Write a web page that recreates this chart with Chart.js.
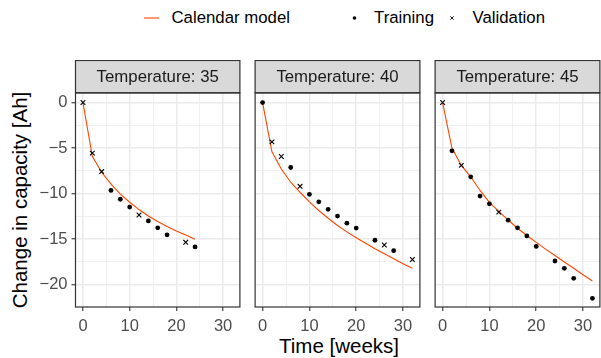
<!DOCTYPE html>
<html>
<head>
<meta charset="utf-8">
<script src="https://cdn.jsdelivr.net/npm/chart.js@4.4.1/dist/chart.umd.min.js"></script>
<style>
  body { margin: 0; width: 601px; height: 358px; overflow: hidden; background: #fff; position: relative;
         font-family: "Liberation Sans", Arial, sans-serif; }
  canvas { position: absolute; top: 60px; }
  .txt { position: absolute; white-space: nowrap; color: #000; }
  .leg { font-size: 16.8px; line-height: 18px; top: 9px; }
</style>
</head>
<body>
<div class="txt leg" style="left:171.5px">Calendar model</div>
<div class="txt leg" style="left:374px">Training</div>
<div class="txt leg" style="left:472.5px">Validation</div>
<svg style="position:absolute;left:0;top:0" width="601" height="40">
  <line x1="144" y1="18" x2="159" y2="18" stroke="#FF4500" stroke-width="1.1"/>
  <circle cx="354.5" cy="18" r="1.8" fill="#000"/>
  <line x1="450.3" y1="16.3" x2="453.7" y2="19.7" stroke="#000" stroke-width="0.9"/>
  <line x1="450.3" y1="19.7" x2="453.7" y2="16.3" stroke="#000" stroke-width="0.9"/>
</svg>
<div class="txt" style="font-size:20.5px;left:20px;top:200px;transform:translate(-50%,-50%) rotate(-90deg);">Change in capacity [Ah]</div>
<div class="txt" style="font-size:20.5px;left:339px;top:346px;transform:translate(-50%,-50%);">Time [weeks]</div>

<canvas id="c35" width="245" height="298" style="left:0px"></canvas>
<canvas id="c40" width="175" height="298" style="left:250px"></canvas>
<canvas id="c45" width="175" height="298" style="left:430px"></canvas>

<script>
// Temperature 35
const train35X = [6, 8, 10, 14, 16, 18, 24];
const train35Y = [-9.65, -10.62, -11.48, -13.0, -13.76, -14.52, -15.85];
const valid35X = [0, 2, 4, 12, 22];
const valid35Y = [0, -5.55, -7.58, -12.35, -15.35];
const model35X = [0, 2, 4, 6, 8, 10, 12, 14, 16, 18, 20, 22, 24];
const model35Y = [0, -5.9, -7.65, -8.95, -10.05, -10.95, -11.75, -12.45, -13.05, -13.6, -14.1, -14.55, -15.0];

// Temperature 40
const train40X = [0, 6, 10, 12, 14, 16, 18, 20, 24, 28];
const train40Y = [0, -7.13, -10.08, -10.9, -11.72, -12.46, -13.25, -13.78, -15.12, -16.26];
const valid40X = [2, 4, 8, 26, 32];
const valid40Y = [-4.32, -5.92, -9.2, -15.64, -17.24];
const model40X = [0, 2, 4, 6, 8, 10, 12, 14, 16, 18, 20, 22, 24, 26, 28, 30, 32];
const model40Y = [0, -5.4, -7.3, -8.75, -9.85, -10.9, -11.85, -12.7, -13.5, -14.2, -14.85, -15.45, -16.05, -16.6, -17.15, -17.7, -18.2];

// Temperature 45
const train45X = [2, 6, 8, 10, 14, 16, 18, 20, 24, 26, 28, 32];
const train45Y = [-5.3, -8.16, -10.27, -11.12, -12.92, -13.76, -14.65, -15.8, -17.4, -18.2, -19.3, -21.5];
const valid45X = [0, 4, 12];
const valid45Y = [0, -6.9, -12.03];
const model45X = [0, 2, 4, 6, 8, 10, 12, 14, 16, 18, 20, 22, 24, 26, 28, 30, 32];
const model45Y = [0, -5.0, -6.9, -8.15, -9.65, -10.95, -11.95, -12.9, -13.8, -14.6, -15.35, -16.1, -16.8, -17.5, -18.2, -18.9, -19.6];

const xTicks = [0, 5, 10, 15, 20, 25, 30];
const yTicks = [0, -2.5, -5, -7.5, -10, -12.5, -15, -17.5, -20];

const pts = (xs, ys) => xs.map((x, i) => ({ x, y: ys[i] }));
const FONT = '"Liberation Sans", Arial, sans-serif';

// strip on top + panel border, ggplot theme_bw look
const panelDeco = {
  id: 'panelDeco',
  afterDraw(chart, args, opts) {
    const { ctx, chartArea: a } = chart;
    ctx.save();
    ctx.fillStyle = '#D9D9D9';
    ctx.strokeStyle = '#333333';
    ctx.lineWidth = 1.2;
    ctx.fillRect(a.left, 0.5, a.right - a.left, 32.2);
    ctx.strokeRect(a.left, 0.5, a.right - a.left, 32.2);
    ctx.fillStyle = '#1A1A1A';
    ctx.font = '16.8px ' + FONT;
    ctx.textAlign = 'center';
    ctx.textBaseline = 'middle';
    ctx.fillText(opts.label, (a.left + a.right) / 2, 17);
    ctx.strokeRect(a.left, a.top, a.right - a.left, a.bottom - a.top);
    ctx.restore();
  }
};

function makePanel(id, label, trainX, trainY, validX, validY, modelX, modelY, axisW, showY, rightPad) {
  new Chart(document.getElementById(id), {
    type: 'scatter',
    data: {
      datasets: [
        { label: 'Training', data: pts(trainX, trainY), pointStyle: 'circle', pointRadius: 2.4,
          backgroundColor: '#000', borderWidth: 0, order: 0 },
        { label: 'Validation', data: pts(validX, validY), pointStyle: 'crossRot', pointRadius: 3.3,
          borderColor: '#000', borderWidth: 1.1, order: 0 },
        { label: 'Calendar model', data: pts(modelX, modelY), showLine: true, pointRadius: 0,
          borderColor: '#FF4500', borderWidth: 1.1, tension: 0, order: 1 }
      ]
    },
    options: {
      responsive: false,
      animation: false,
      devicePixelRatio: 1,
      layout: { padding: { left: 0, right: rightPad, top: 33, bottom: 0 } },
      plugins: { legend: { display: false }, tooltip: { enabled: false }, panelDeco: { label } },
      scales: {
        x: {
          min: -1.6, max: 33.6,
          afterBuildTicks: ax => { ax.ticks = xTicks.map(v => ({ value: v })); },
          afterFit: ax => { ax.height = 51; },
          border: { display: false },
          grid: {
            color: '#EBEBEB',
            lineWidth: c => (c.tick && c.tick.value % 10 === 0 ? 1.5 : 0.75),
            tickColor: c => (c.tick && c.tick.value % 10 === 0 ? '#333333' : 'rgba(0,0,0,0)'),
            tickLength: 4, tickWidth: 1.1
          },
          ticks: {
            color: '#4D4D4D', padding: 6,
            font: { family: FONT, size: 16.5 },
            maxRotation: 0, autoSkip: false,
            callback: v => (v % 10 === 0 ? String(v) : '')
          }
        },
        y: {
          min: -22.45, max: 1.05,
          afterBuildTicks: ax => { ax.ticks = yTicks.map(v => ({ value: v })); },
          afterFit: ax => { ax.width = axisW; },
          border: { display: false },
          grid: {
            color: '#EBEBEB',
            lineWidth: c => (c.tick && c.tick.value % 5 === 0 ? 1.5 : 0.75),
            drawTicks: showY,
            tickColor: c => (c.tick && c.tick.value % 5 === 0 ? '#333333' : 'rgba(0,0,0,0)'),
            tickLength: 4, tickWidth: 1.1
          },
          ticks: {
            display: showY,
            color: '#4D4D4D', padding: 4,
            font: { family: FONT, size: 16.5 },
            autoSkip: false,
            callback: v => (v % 5 === 0 ? String(v).replace('-', '\u2212') : '')
          }
        }
      }
    },
    plugins: [panelDeco]
  });
}

makePanel('c35', 'Temperature: 35', train35X, train35Y, valid35X, valid35Y, model35X, model35Y, 75.5, true, 1.8);
makePanel('c40', 'Temperature: 40', train40X, train40Y, valid40X, valid40Y, model40X, model40Y, 4.8, false, 2);
makePanel('c45', 'Temperature: 45', train45X, train45Y, valid45X, valid45Y, model45X, model45Y, 4.3, false, 2.5);
</script>
</body>
</html>
